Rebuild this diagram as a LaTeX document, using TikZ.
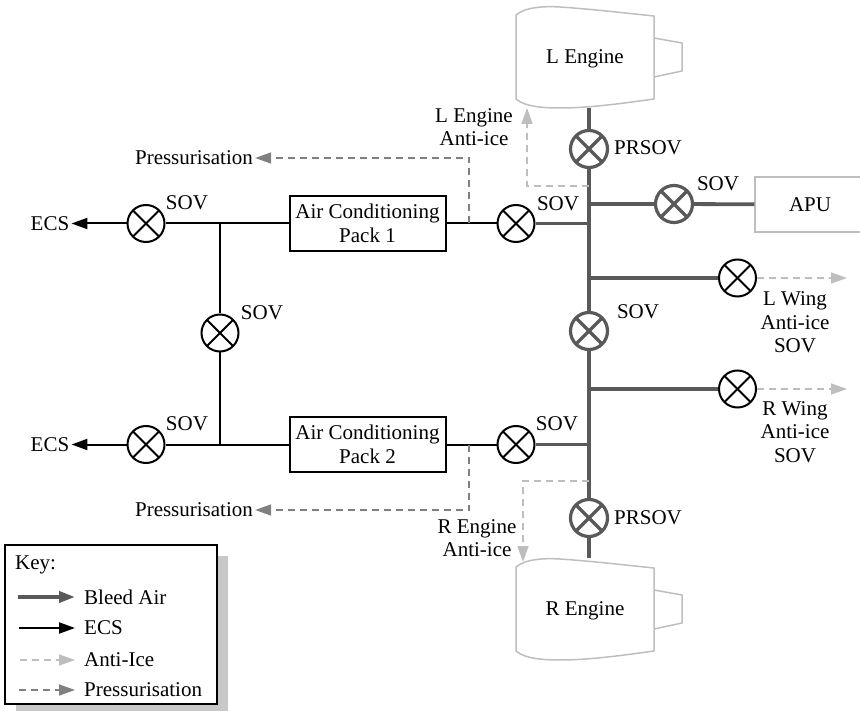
\documentclass[tikz,border=0pt]{standalone}
\usepackage{fontspec}
\setmainfont{Liberation Serif}
\usetikzlibrary{arrows.meta, positioning}
\definecolor{bleedgray}{RGB}{89,89,89}
\definecolor{antigray}{RGB}{190,190,192}
\definecolor{pressgray}{RGB}{128,128,130}
\definecolor{shadowgray}{RGB}{200,200,202}

\begin{document}
\begin{tikzpicture}[
  x=1pt, y=-1pt,
  every node/.style={font=\fontsize{21}{23.5}\selectfont, align=center, inner sep=2pt},
  valve/.style={circle, minimum size=37pt, inner sep=0pt, path picture={
      \draw[line width=2pt] (path picture bounding box.north west) -- (path picture bounding box.south east);
      \draw[line width=2pt] (path picture bounding box.south west) -- (path picture bounding box.north east);}},
  ecsvalve/.style={valve, draw=black, line width=2pt},
  bleedvalve/.style={valve, draw=bleedgray, line width=3.2pt, minimum size=37pt, path picture={
      \draw[bleedgray, line width=3.2pt] (path picture bounding box.north west) -- (path picture bounding box.south east);
      \draw[bleedgray, line width=3.2pt] (path picture bounding box.south west) -- (path picture bounding box.north east);}},
  pack/.style={rectangle, draw, line width=2pt, minimum width=156pt, minimum height=55pt},
  enginelabel/.style={rectangle, minimum width=138pt, minimum height=102pt, text depth=0pt},
  apubox/.style={rectangle, draw=antigray, line width=1.5pt, minimum width=110pt, minimum height=55pt},
  keybox/.style={rectangle, draw, fill=white, line width=1.5pt, minimum width=212pt, minimum height=159pt},
  keytext/.style={anchor=west, inner xsep=0pt},
  bleed/.style={draw=bleedgray, line width=3.8pt},
  ecs/.style={draw=black, line width=2pt},
  ecsarr/.style={ecs, -{Triangle[length=16pt,width=11pt]}},
  bleedarr/.style={bleed, -{Triangle[length=16pt,width=11pt]}},
  antiarr/.style={draw=antigray, line width=1.6pt, dash pattern=on 7pt off 5pt, -{Triangle[length=16pt,width=11pt]}},
  pressarr/.style={draw=pressgray, line width=1.6pt, dash pattern=on 7pt off 5pt, -{Triangle[length=16pt,width=11pt]}},
  enginebody/.pic={
    \draw[antigray, line width=1.5pt, line join=round] (-69,-42) .. controls (-60,-50) and (-40,-51) .. (-25,-50)
      .. controls (5,-48) and (40,-44) .. (69,-41) -- (69,42)
      .. controls (40,46) and (5,51) .. (-25,51) .. controls (-40,51) and (-60,50) .. (-69,42) -- cycle;
    \draw[antigray, line width=1.5pt, line join=round] (69,-19) -- (97,-14) -- (97,14) -- (69,20);
  }
]
\useasboundingbox (0,0) rectangle (860,711);

% ECS side, upper and lower line
\node[ecsvalve] (ecsone) at (146,223.5) {};
\node[ecsvalve] (ecstwo) at (146,444.5) {};
\node[ecsvalve] (cross) at (220,333) {};
\node[pack] (packone) at (367.5,223.5) {Air Conditioning\\Pack 1};
\node[pack] (packtwo) at (367.5,444.5) {Air Conditioning\\Pack 2};
\node[ecsvalve] (inone) at (516,223.5) {};
\node[ecsvalve] (intwo) at (516,444.5) {};
\node (ecsa) at (50,223.5) {ECS};
\node (ecsb) at (50,444.5) {ECS};
\node at (187,203) (sova) {SOV};
\node at (187,424) (sovb) {SOV};
\node at (262,313) (sovc) {SOV};
\node at (558,204) (sovd) {SOV};
\node at (557,424) (sove) {SOV};

% bleed trunk valves
\node[bleedvalve] (prsovl) at (589,149) {};
\node[bleedvalve] (midsov) at (589,331) {};
\node[bleedvalve] (prsovr) at (589,518) {};
\node[bleedvalve] (aposov) at (674,204) {};
\node[ecsvalve] (lwing) at (737.5,278) {};
\node[ecsvalve] (rwing) at (737.5,389) {};
\node[apubox] (apu) at (810,204.5) {APU};
\node at (648,148) (prl) {PRSOV};
\node at (648,518) (prr) {PRSOV};
\node at (718,184) (sovf) {SOV};
\node at (638,312) (sovg) {SOV};

% engines
\node[enginelabel] (lengine) at (585,57) {L Engine};
\node[enginelabel] (rengine) at (585,609) {R Engine};
\pic at (lengine) {enginebody};
\pic at (rengine) {enginebody};

% tee points
\coordinate (ecstop) at (220,223.5);
\coordinate (ecsbot) at (220,444.5);
\coordinate (ptop) at (469,223.5);
\coordinate (pbot) at (469,444.5);
\coordinate (tapone) at (589,223.5);
\coordinate (taptwo) at (589,444.5);
\coordinate (tapapu) at (589,204);
\coordinate (taplw) at (589,278);
\coordinate (taprw) at (589,389);
\coordinate (tapla) at (589,186);
\coordinate (tapra) at (589,481);
\coordinate (ltip) at (527,108);
\coordinate (rtip) at (523,562);
\coordinate (lwingend) at (847,278);
\coordinate (rwingend) at (847,389);

% ECS lines
\draw[ecsarr] (ecsone) -- (ecsa);
\draw[ecsarr] (ecstwo) -- (ecsb);
\draw[ecs] (ecsone) -- (packone);
\draw[ecs] (ecstwo) -- (packtwo);
\draw[ecs] (ecstop) -- (cross);
\draw[ecs] (cross) -- (ecsbot);
\draw[ecs] (packone) -- (inone);
\draw[ecs] (packtwo) -- (intwo);

% bleed air
\draw[bleed] (prsovl) -- (prsovl |- lengine.south);
\draw[bleed] (prsovl) -- (midsov);
\draw[bleed] (midsov) -- (prsovr);
\draw[bleed] (prsovr) -- (prsovr |- rengine.north);
\draw[bleed] (inone) -- (tapone);
\draw[bleed] (intwo) -- (taptwo);
\draw[bleed] (tapapu) -- (aposov);
\draw[bleed] (aposov) -- (apu);
\draw[bleed] (taplw) -- (lwing);
\draw[bleed] (taprw) -- (rwing);

% pressurisation
\node (pressa) at (194,158) {Pressurisation};
\node (pressb) at (194,510) {Pressurisation};
\draw[pressarr] (ptop) |- (pressa);
\draw[pressarr] (pbot) |- (pressb);

% anti-ice
\node (lanti) at (474,127) {L Engine\\Anti-ice};
\node (ranti) at (477,538) {R Engine\\Anti-ice};
\draw[antiarr] (tapla) -| (ltip);
\draw[antiarr] (tapra) -| (rtip);
\draw[antiarr] (lwing) -- (lwingend);
\draw[antiarr] (rwing) -- (rwingend);
\node (lwinglabel) at (795,322.5) {L Wing\\Anti-ice\\SOV};
\node (rwinglabel) at (795,432) {R Wing\\Anti-ice\\SOV};

% key
\fill[shadowgray] (16,556) rectangle (228,711);
\node[keybox] (key) at (111,624.5) {};
\node[keytext] (keytitle) at (15,564.5) {Key:};
\node[keytext] (keybleed) at (84,597) {Bleed Air};
\node[keytext] (keyecs) at (84,628) {ECS};
\node[keytext] (keyanti) at (84,660) {Anti-Ice};
\node[keytext] (keypress) at (84,690) {Pressurisation};
\draw[bleedarr] ([xshift=-66pt]keybleed.west) -- ([xshift=-9pt]keybleed.west);
\draw[ecsarr] ([xshift=-65pt]keyecs.west) -- ([xshift=-9pt]keyecs.west);
\draw[antiarr] ([xshift=-64pt]keyanti.west) -- ([xshift=-9pt]keyanti.west);
\draw[pressarr] ([xshift=-65pt]keypress.west) -- ([xshift=-9pt]keypress.west);
\end{tikzpicture}
\end{document}
